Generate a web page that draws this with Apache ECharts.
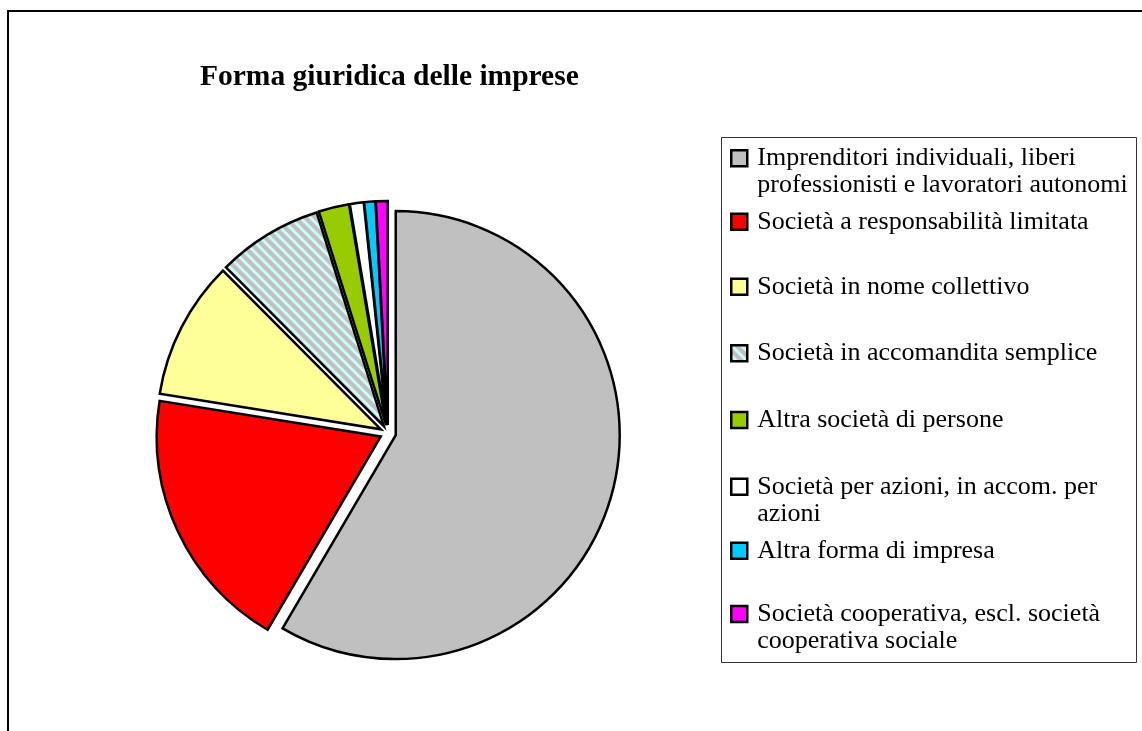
<!DOCTYPE html>
<html>
<head>
<meta charset="utf-8">
<script src="https://cdn.jsdelivr.net/npm/echarts@6/dist/echarts.min.js"></script>
<style>
  html, body { margin: 0; padding: 0; background: #fff; }
  #chart { width: 1142px; height: 731px; }
</style>
</head>
<body>
<div id="chart"></div>
<script>
// ---- Data ----
const titleText = 'Forma giuridica delle imprese';
const categories = [
  'Imprenditori individuali, liberi professionisti e lavoratori autonomi',
  'Società a responsabilità limitata',
  'Società in nome collettivo',
  'Società in accomandita semplice',
  'Altra società di persone',
  'Società per azioni, in accom. per azioni',
  'Altra forma di impresa',
  'Società cooperativa, escl. società cooperativa sociale'
];
const legendLabels = [
  'Imprenditori individuali, liberi\nprofessionisti e lavoratori autonomi',
  'Società a responsabilità limitata',
  'Società in nome collettivo',
  'Società in accomandita semplice',
  'Altra società di persone',
  'Società per azioni, in accom. per\nazioni',
  'Altra forma di impresa',
  'Società cooperativa, escl. società\ncooperativa sociale'
];
const values = [58.4, 19.1, 10.0, 7.6, 2.2, 1.0, 0.8, 0.85];
const colors = ['#c0c0c0', '#ff0000', '#ffff99', 'HATCH', '#99cc00', '#ffffff', '#00ccff', '#ff00ff'];

// ---- Hatch pattern for "Società in accomandita semplice" ----
function makeHatch() {
  const n = 10;
  const c = document.createElement('canvas');
  c.width = n; c.height = n;
  const ctx = c.getContext('2d');
  ctx.fillStyle = '#c0c0c0';
  ctx.fillRect(0, 0, n, n);
  ctx.strokeStyle = '#ccffff';
  ctx.lineWidth = 2.8;
  [-n, 0, n].forEach(function (k) {
    ctx.beginPath();
    ctx.moveTo(k - 2, -2);
    ctx.lineTo(k + n + 2, n + 2);
    ctx.stroke();
  });
  return c;
}
const hatch = makeHatch();
function fillFor(i) {
  return colors[i] === 'HATCH' ? { image: hatch, repeat: 'repeat' } : colors[i];
}

const FONT = '"Liberation Serif", "Times New Roman", serif';
const chart = echarts.init(document.getElementById('chart'), null, { renderer: 'canvas' });

const iconCenters = [158.3, 221.7, 286.7, 353.3, 420, 486.7, 550.7, 614];
const LH = 27;
const legends = categories.map(function (name, i) {
  const twoLine = legendLabels[i].indexOf('\n') >= 0;
  return {
    data: [name],
    orient: 'vertical',
    left: 730,
    top: iconCenters[i] - (twoLine ? 1.5 * LH : 0.5 * LH),
    padding: 0,
    itemWidth: 16,
    itemHeight: 16,
    icon: 'rect',
    selectedMode: false,
    itemStyle: { borderColor: '#000', borderWidth: 2.5 },
    // a leading blank line keeps the first text line level with the icon
    formatter: function () { return twoLine ? '\n' + legendLabels[i] : legendLabels[i]; },
    textStyle: {
      fontFamily: FONT,
      fontSize: 26,
      color: '#000',
      lineHeight: LH,
      padding: [0, 0, 0, 5]
    }
  };
});

chart.setOption({
  animation: false,
  backgroundColor: '#fff',
  title: {
    text: titleText,
    left: 200,
    top: 62,
    padding: 0,
    textStyle: { fontFamily: FONT, fontSize: 29.5, fontWeight: 'bold', color: '#000' }
  },
  legend: legends,
  graphic: [
    {
      type: 'rect',
      shape: { x: 8, y: 11, width: 1300, height: 900 },
      style: { fill: 'none', stroke: '#000', lineWidth: 2 },
      silent: true, z: 100
    },
    {
      type: 'rect',
      shape: { x: 721.5, y: 137.5, width: 415, height: 525 },
      style: { fill: 'none', stroke: '#333', lineWidth: 1 },
      silent: true, z: 100
    }
  ],
  series: [{
    type: 'pie',
    center: [388, 433],
    radius: 224,
    startAngle: 90,
    clockwise: true,
    selectedMode: 'multiple',
    selectedOffset: 8,
    avoidLabelOverlap: false,
    label: { show: false },
    labelLine: { show: false },
    emphasis: { scale: false },
    itemStyle: { borderColor: '#000', borderWidth: 2.5, borderJoin: 'miter' },
    data: categories.map(function (name, i) {
      return { name: name, value: values[i], selected: true, itemStyle: { color: fillFor(i) } };
    })
  }]
});
</script>
</body>
</html>
